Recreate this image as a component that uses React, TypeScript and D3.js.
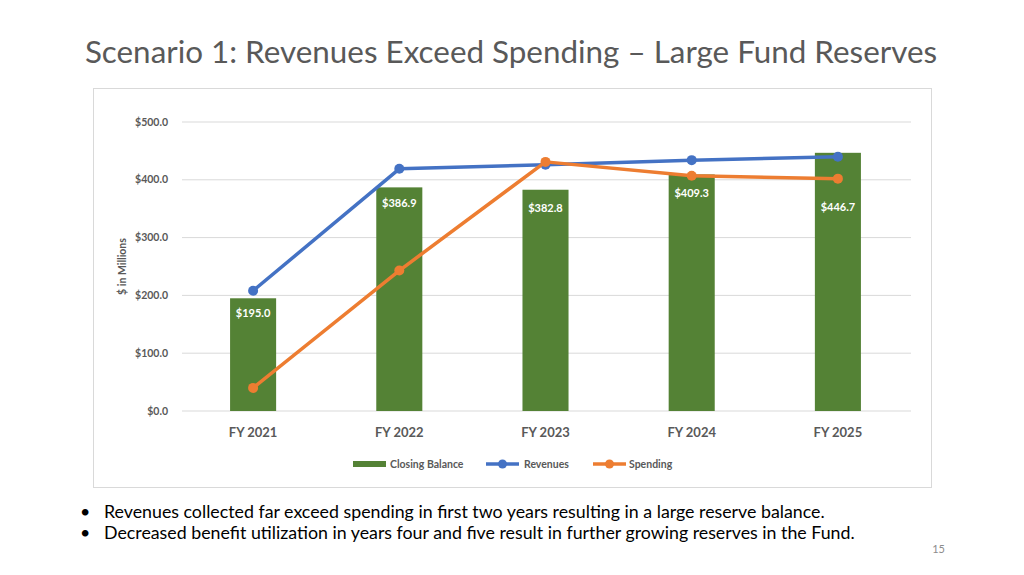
import * as d3 from "d3";
import React from "react";

const YEARS = ["FY 2021", "FY 2022", "FY 2023", "FY 2024", "FY 2025"];
const CLOSING_BALANCE = [195.0, 386.9, 382.8, 409.3, 446.7];
const REVENUES = [208, 419, 426, 434, 440];
const SPENDING = [40, 243, 431, 407, 402];
const Y_TICKS = [0, 100, 200, 300, 400, 500];
const BULLETS = [
  "Revenues collected far exceed spending in first two years resulting in a large reserve balance.",
  "Decreased benefit utilization in years four and five result in further growing reserves in the Fund.",
];

const GREEN = "#548235";
const BLUE = "#4472C4";
const ORANGE = "#ED7D31";
const GRAY = "#595959";

const W = 1024;
const H = 575;
const plot = { left: 180, right: 911, top: 122, bottom: 411 };
// label offsets below bar top (labels were nudged by hand in the original)
const LABEL_DY = [15, 16, 18, 19, 54];

export default function App() {
  const x = d3
    .scaleBand<string>()
    .domain(YEARS)
    .range([plot.left, plot.right])
    .paddingInner(0.685)
    .paddingOuter(0.3425);
  const y = d3.scaleLinear().domain([0, 500]).range([plot.bottom, plot.top]);
  const cx = (d: string) => x(d)! + x.bandwidth() / 2;

  const line = d3
    .line<number>()
    .x((_, i) => cx(YEARS[i]))
    .y((v) => y(v));

  const fmt = (v: number) => `$${v.toFixed(1)}`;

  return (
    <svg
      width={W}
      height={H}
      style={{ position: "absolute", left: 0, top: 0, fontFamily: "Lato" }}
    >
      <rect width={W} height={H} fill="#fff" />
      <text x={511} y={63} textAnchor="middle" fontSize={31.4} fill={GRAY}>
        Scenario 1: Revenues Exceed Spending – Large Fund Reserves
      </text>

      {/* chart frame */}
      <rect x={93.5} y={88.5} width={838} height={399} fill="#fff" stroke="#d9d9d9" />

      {/* gridlines + y ticks */}
      {Y_TICKS.map((t) => (
        <g key={t}>
          <line
            x1={182}
            x2={plot.right}
            y1={y(t)}
            y2={y(t)}
            stroke="#d9d9d9"
            strokeWidth={1}
          />
          <text
            x={168}
            y={y(t)}
            dy="0.35em"
            textAnchor="end"
            fontSize={10.5}
            fontWeight={700}
            fill={GRAY}
          >
            {fmt(t)}
          </text>
        </g>
      ))}

      <text
        transform={`translate(126,${(plot.top + plot.bottom) / 2}) rotate(-90)`}
        textAnchor="middle"
        fontSize={10.5}
        fontWeight={700}
        fill={GRAY}
      >
        $ in Millions
      </text>

      {/* bars */}
      {YEARS.map((d, i) => (
        <g key={d}>
          <rect
            x={x(d)}
            y={y(CLOSING_BALANCE[i])}
            width={x.bandwidth()}
            height={y(0) - y(CLOSING_BALANCE[i])}
            fill={GREEN}
          />
          <text
            x={cx(d)}
            y={y(CLOSING_BALANCE[i]) + LABEL_DY[i]}
            dy="0.35em"
            textAnchor="middle"
            fontSize={11}
            fontWeight={700}
            fill="#fff"
          >
            {fmt(CLOSING_BALANCE[i])}
          </text>
          <text
            x={cx(d)}
            y={432}
            dy="0.35em"
            textAnchor="middle"
            fontSize={13}
            fontWeight={700}
            fill={GRAY}
          >
            {d}
          </text>
        </g>
      ))}

      {/* lines */}
      {[
        { values: REVENUES, color: BLUE },
        { values: SPENDING, color: ORANGE },
      ].map((s) => (
        <g key={s.color}>
          <path
            d={line(s.values)!}
            fill="none"
            stroke={s.color}
            strokeWidth={3.5}
            strokeLinejoin="round"
          />
          {s.values.map((v, i) => (
            <circle key={i} cx={cx(YEARS[i])} cy={y(v)} r={5} fill={s.color} />
          ))}
        </g>
      ))}

      {/* legend */}
      <g fontSize={10.5} fontWeight={700} fill={GRAY}>
        <rect x={353} y={461} width={33} height={6} fill={GREEN} />
        <text x={390} y={464} dy="0.35em">Closing Balance</text>
        <line x1={486} x2={519} y1={464} y2={464} stroke={BLUE} strokeWidth={3.5} />
        <circle cx={502.5} cy={464} r={4.5} fill={BLUE} />
        <text x={524} y={464} dy="0.35em">Revenues</text>
        <line x1={593} x2={626} y1={464} y2={464} stroke={ORANGE} strokeWidth={3.5} />
        <circle cx={609.5} cy={464} r={4.5} fill={ORANGE} />
        <text x={629} y={464} dy="0.35em">Spending</text>
      </g>

      {/* bullets */}
      {BULLETS.map((b, i) => (
        <g key={i} fontSize={17.8} fill="#000">
          <text x={80} y={518 + i * 21}>•</text>
          <text x={104} y={518 + i * 21}>{b}</text>
        </g>
      ))}
      <text x={945} y={553} textAnchor="end" fontSize={11} fill="#8c8c8c">
        15
      </text>
    </svg>
  );
}
